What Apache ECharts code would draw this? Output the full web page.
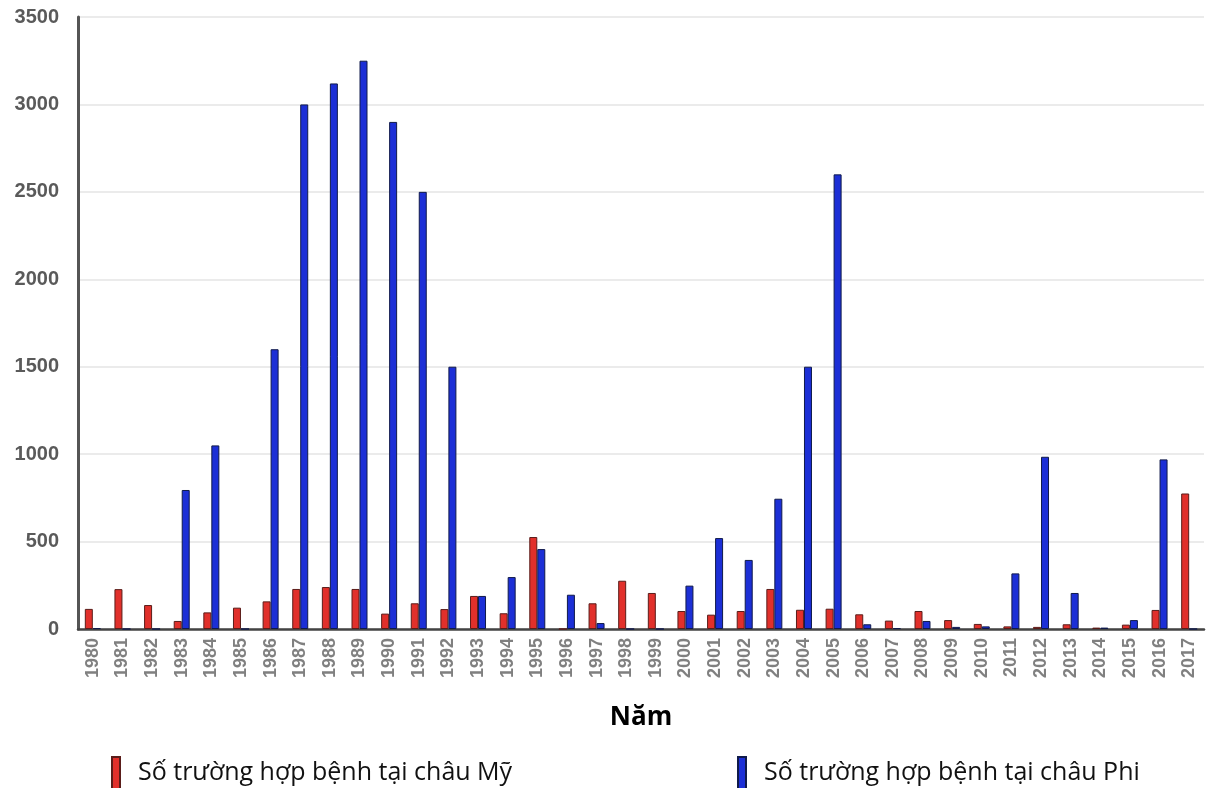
<!DOCTYPE html>
<html>
<head>
<meta charset="utf-8">
<script src="https://cdn.jsdelivr.net/npm/echarts@6/dist/echarts.min.js"></script>
<style>
  html, body { margin: 0; padding: 0; background: #ffffff; }
  #chart { width: 1206px; height: 788px; }
</style>
</head>
<body>
<div id="chart"></div>
<script>
// Years on the category axis
const years = [
  '1980','1981','1982','1983','1984','1985','1986','1987','1988','1989',
  '1990','1991','1992','1993','1994','1995','1996','1997','1998','1999',
  '2000','2001','2002','2003','2004','2005','2006','2007','2008','2009',
  '2010','2011','2012','2013','2014','2015','2016','2017'
];

// Cases in the Americas
const americasCases = [
  115, 228, 137, 46, 95, 122, 158, 229, 240, 229,
  88, 147, 114, 189, 90, 526, 0, 147, 276, 206,
  103, 82, 103, 229, 110, 116, 84, 48, 103, 51,
  29, 15, 12, 27, 8, 25, 109, 775
];

// Cases in Africa
const africaCases = [
  5, 0, 0, 795, 1050, 0, 1600, 3000, 3120, 3250,
  2900, 2500, 1500, 189, 297, 457, 196, 34, 0, 0,
  248, 520, 395, 745, 1500, 2600, 27, 5, 46, 12,
  15, 318, 985, 206, 8, 51, 970, 0
];

// Value axis ticks
const yMin = 0;
const yMax = 3500;
const yStep = 500;

const nameAmericas = 'Số trường hợp bệnh tại châu Mỹ';
const nameAfrica = 'Số trường hợp bệnh tại châu Phi';

const chart = echarts.init(document.getElementById('chart'));

const legendText = {
  fontFamily: '"Open Sans", "Noto Sans", sans-serif',
  fontSize: 25,
  color: '#111111',
  padding: [0, 0, 0, 13]
};

chart.setOption({
  animation: false,
  backgroundColor: '#ffffff',
  grid: { left: 78, right: 2, top: 17, bottom: 159, containLabel: false },
  legend: [
    {
      data: [nameAmericas],
      left: 106, top: 751,
      icon: 'rect', itemWidth: 8, itemHeight: 32, itemGap: 10,
      textStyle: legendText
    },
    {
      data: [nameAfrica],
      left: 732, top: 751,
      icon: 'rect', itemWidth: 8, itemHeight: 32, itemGap: 10,
      textStyle: legendText
    }
  ],
  xAxis: {
    type: 'category',
    data: years,
    name: 'Năm',
    nameLocation: 'middle',
    nameGap: 76,
    nameTextStyle: {
      fontFamily: '"Open Sans", "Noto Sans", sans-serif',
      fontSize: 26, fontWeight: 'bold', color: '#000000'
    },
    axisLine: { lineStyle: { color: '#444444', width: 2.5 } },
    axisTick: { show: false },
    axisLabel: {
      rotate: 90,
      interval: 0,
      margin: 9,
      fontFamily: '"Liberation Sans", Arial, sans-serif',
      fontSize: 18, fontWeight: 'bold', color: '#808080'
    }
  },
  yAxis: {
    type: 'value',
    min: yMin, max: yMax, interval: yStep,
    axisLine: { show: true, lineStyle: { color: '#555555', width: 3 } },
    axisTick: { show: false },
    splitLine: { lineStyle: { color: '#e4e4e4', width: 1.5 } },
    axisLabel: {
      margin: 19,
      formatter: (v) => String(v),
      fontFamily: '"Liberation Sans", Arial, sans-serif',
      fontSize: 20, fontWeight: 'bold', color: '#5a5a5a'
    }
  },
  series: [
    {
      name: nameAmericas,
      type: 'bar',
      data: americasCases,
      barWidth: 8,
      barGap: '0%',
      itemStyle: { color: '#e1302b', borderColor: '#5a1d1a', borderWidth: 1 }
    },
    {
      name: nameAfrica,
      type: 'bar',
      data: africaCases,
      barWidth: 8,
      barGap: '0%',
      itemStyle: { color: '#1c2fd6', borderColor: '#101a4a', borderWidth: 1 }
    }
  ]
});
</script>
</body>
</html>
